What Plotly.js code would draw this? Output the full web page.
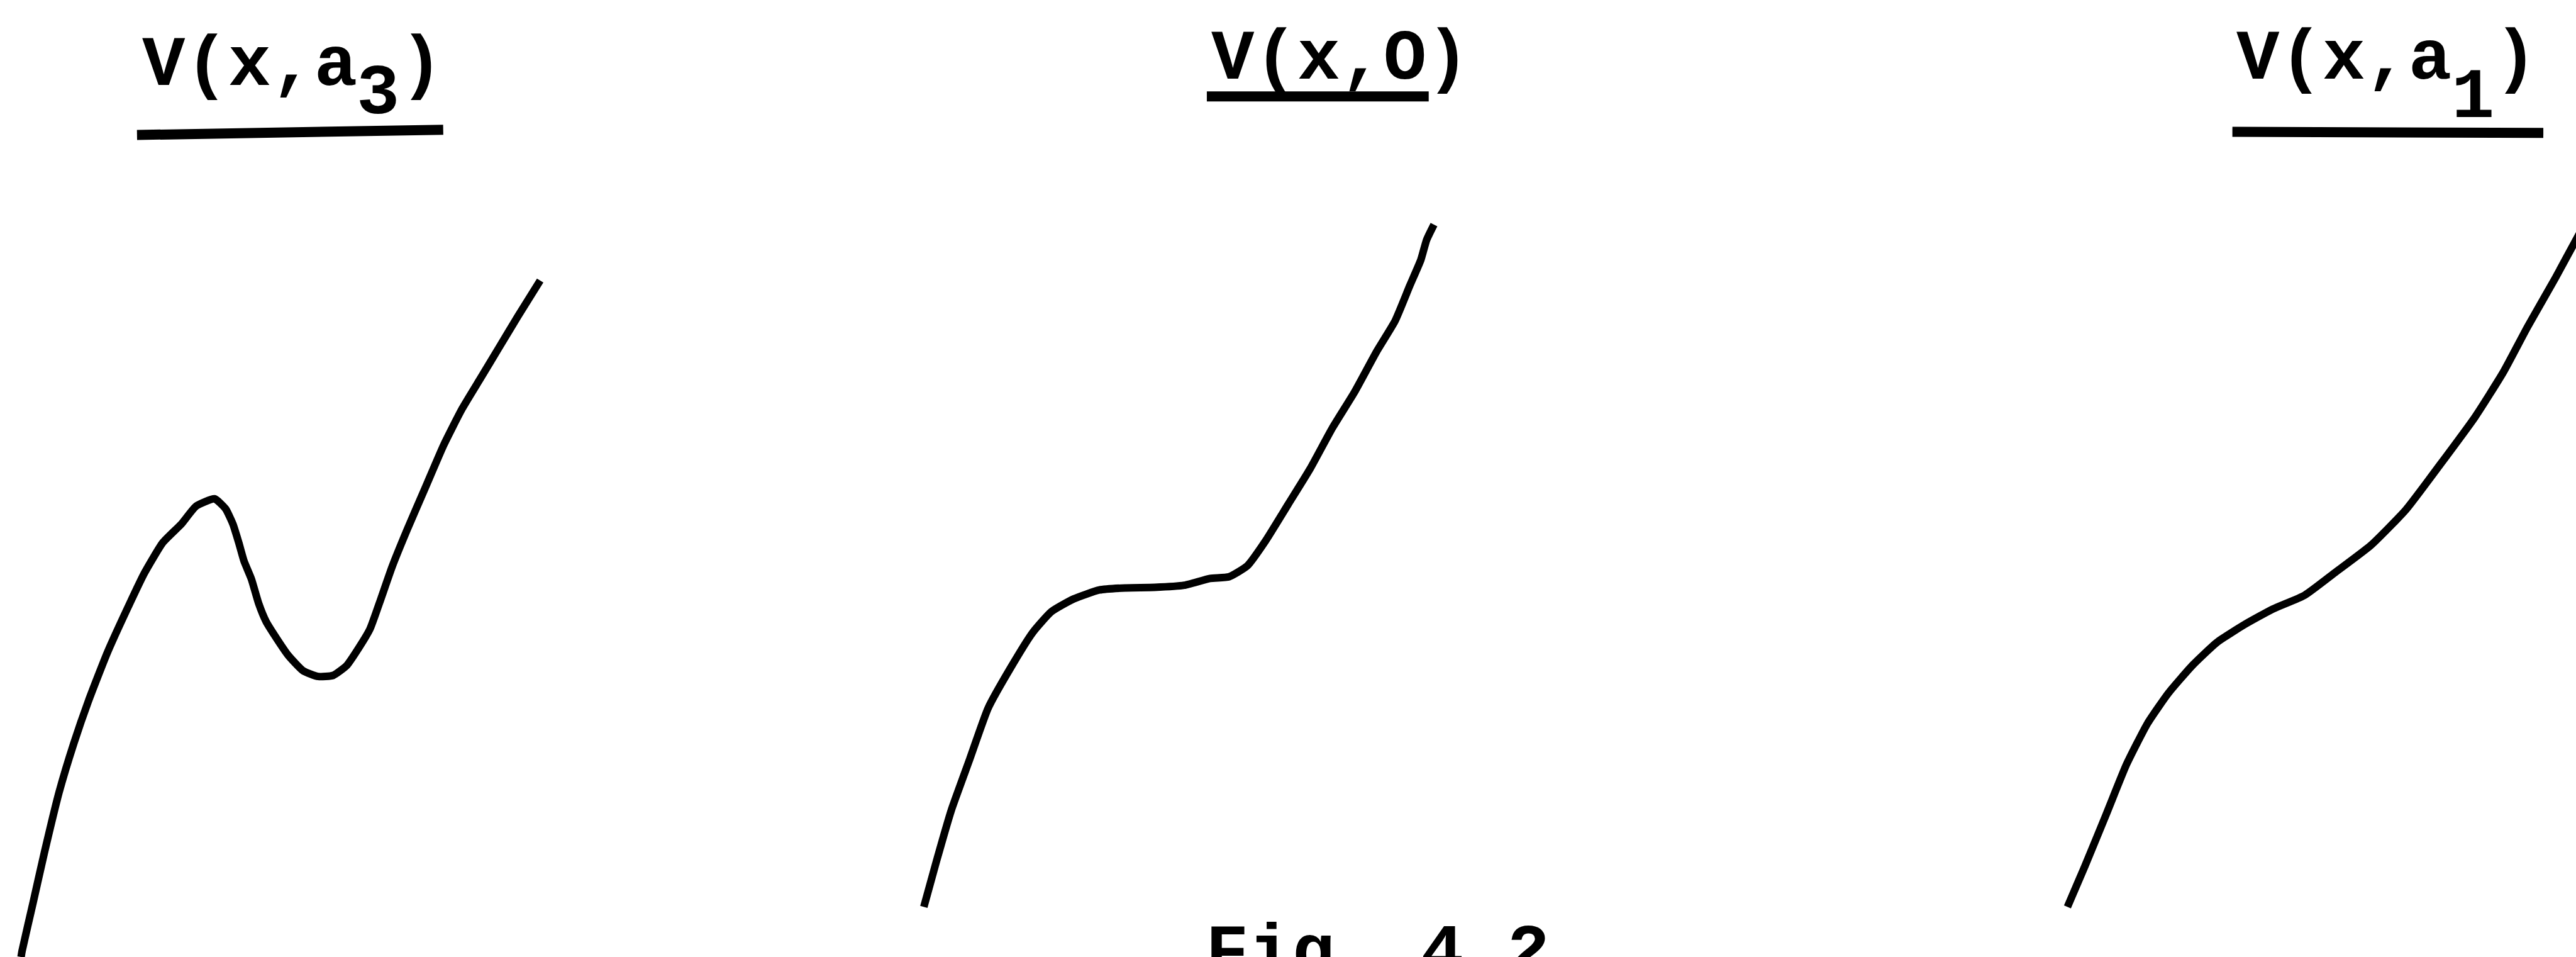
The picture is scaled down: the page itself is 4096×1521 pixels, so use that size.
<!DOCTYPE html>
<html>
<head>
<meta charset="utf-8">
<script src="https://cdn.plot.ly/plotly-3.0.1.min.js"></script>
<style>
  html, body { margin: 0; padding: 0; background: #fff; }
  #chart { width: 4096px; height: 1521px; }
</style>
</head>
<body>
<div id="chart"></div>
<script>
// ---- Data (horizontal position x, potential V) ----
const panelNames = ["V(x,a3)", "V(x,O)", "V(x,a1)"];

const xA3 = [40, 42, 63, 84, 112, 140, 168, 204, 246, 274, 309, 344, 372, 407, 428, 442, 453, 463, 477, 491, 505, 523, 547, 575, 604, 632, 658, 680, 702, 723, 744, 772, 807, 842, 877, 912, 947, 982, 1025];
const vA3 = [0, 12, 104, 197, 312, 405, 486, 578, 670, 728, 786, 821, 855, 869, 850, 821, 786, 751, 717, 670, 636, 607, 572, 543, 532, 534, 553, 585, 622, 680, 740, 809, 890, 971, 1040, 1098, 1156, 1214, 1283];

const x0 = [1753, 1777, 1805, 1840, 1875, 1918, 1960, 1995, 2037, 2086, 2135, 2191, 2247, 2296, 2332, 2367, 2402, 2444, 2486, 2528, 2570, 2612, 2647, 2675, 2696, 2707, 2721];
const v0 = [95, 182, 278, 375, 472, 549, 616, 655, 679, 696, 700, 701, 705, 718, 721, 742, 790, 858, 926, 1003, 1071, 1148, 1206, 1273, 1322, 1360, 1389];

const xA1 = [3923, 3956, 3996, 4035, 4075, 4115, 4161, 4207, 4260, 4313, 4373, 4432, 4499, 4565, 4631, 4697, 4750, 4796, 4849, 4888, 4910];
const vA1 = [95, 172, 269, 365, 443, 501, 554, 597, 631, 660, 686, 730, 781, 848, 935, 1025, 1109, 1195, 1288, 1360, 1400];

const figLabel = "Fig. 4.2";

// ---- Drawing ----
const FULL_W = 4888, FULL_H = 1815;
const LINE_W = 12;
const FONT = { family: "Liberation Mono, DejaVu Sans Mono, monospace", size: 114, color: "#000", weight: 700 };
const PITCH = 81.6; // one typewriter cell, in figure units

function curve(x, y) {
  return {
    type: "scatter", mode: "lines", x: x, y: y,
    line: { color: "#000", width: LINE_W, shape: "spline", smoothing: 0.5 },
    hoverinfo: "skip", showlegend: false, cliponaxis: true
  };
}

const traces = [curve(xA3, vA3), curve(x0, v0), curve(xA1, vA1)];

function ann(text, x, y, yanchor) {
  return { text: text, x: x, y: y, xref: "x", yref: "y", xanchor: "left", yanchor: yanchor,
           showarrow: false, font: FONT, borderpad: 0 };
}

// Titles are typed in monospace cells; subscript digits sit in their own cell, lowered.
const annotations = [
  ann("V(x,a", 268, 1612, "bottom"),
  ann("3", 268 + 5 * PITCH, 1558, "bottom"),
  ann(")", 268 + 6 * PITCH, 1612, "bottom"),
  ann("V(x,O)", 2297, 1624, "bottom"),
  ann("V(x,a", 4242, 1624, "bottom"),
  ann("1", 4242 + 5 * PITCH, 1551, "bottom"),
  ann(")", 4242 + 6 * PITCH, 1624, "bottom"),
  ann(figLabel, 2287, 83, "top")
];

function uline(x0_, y0_, x1_, y1_) {
  return { type: "line", xref: "x", yref: "y", x0: x0_, y0: y0_, x1: x1_, y1: y1_,
           line: { color: "#000", width: 16 } };
}
const shapes = [
  uline(260, FULL_H - 256, 841, FULL_H - 246),
  uline(2290, FULL_H - 183, 2711, FULL_H - 183),
  uline(4236, FULL_H - 250, 4826, FULL_H - 252)
];

const layout = {
  width: 4096, height: 1521, autosize: false,
  margin: { l: 0, r: 0, t: 0, b: 0, pad: 0 },
  paper_bgcolor: "#fff", plot_bgcolor: "#fff",
  xaxis: { range: [0, FULL_W], visible: false, fixedrange: true },
  yaxis: { range: [0, FULL_H], visible: false, fixedrange: true },
  showlegend: false,
  annotations: annotations,
  shapes: shapes
};

Plotly.newPlot("chart", traces, layout, { staticPlot: true, displayModeBar: false });
</script>
</body>
</html>
